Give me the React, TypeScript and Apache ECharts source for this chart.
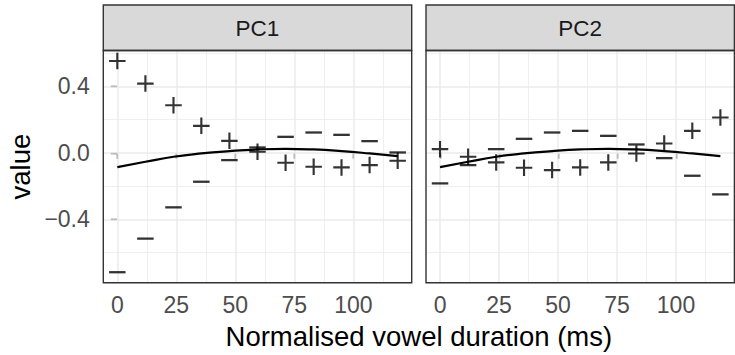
import React, { useEffect, useRef } from 'react';
import * as echarts from 'echarts';

// ---- data ----
const panels = ['PC1', 'PC2'];
const durations = [0, 11.9, 23.8, 35.6, 47.5, 59.4, 71.3, 83.2, 95.0, 106.9, 118.8];
const meanCurve = [-0.086, -0.054, -0.024, -0.004, 0.010, 0.020, 0.024, 0.020, 0.010, -0.004, -0.020];
const pc1Plus = [0.552, 0.416, 0.286, 0.162, 0.072, 0.006, -0.060, -0.084, -0.088, -0.074, -0.048];
const pc1Minus = [-0.718, -0.516, -0.328, -0.174, -0.044, 0.032, 0.096, 0.122, 0.108, 0.070, 0.002];
const pc2Plus = [0.022, -0.024, -0.058, -0.090, -0.104, -0.088, -0.058, -0.004, 0.056, 0.132, 0.212];
const pc2Minus = [-0.184, -0.074, 0.022, 0.084, 0.122, 0.132, 0.102, 0.050, -0.032, -0.138, -0.250];
const xTicks = [0, 25, 50, 75, 100];
const xMinor = [12.5, 37.5, 62.5, 87.5, 112.5];
const yTicks = [-0.4, 0, 0.4];
const yMinor = [-0.6, -0.2, 0.2, 0.6];
const xRange = [-5.94, 124.74];
const yRange = [-0.781, 0.615];

// ---- layout ----
const FONT = '"Liberation Sans", Arial, Helvetica, sans-serif';
const PANEL_LEFT = [103.3, 426];
const PANEL_W = 308.4;
const PANEL_TOP = 50.5;
const PANEL_H = 232.2;
const STRIP_TOP = 5;
const STRIP_H = 45.5;

const PLUS_PATH = 'path://M0,4.35H4.35V0H5.65V4.35H10V5.65H5.65V10H4.35V5.65H0Z';

export default function App() {
  const ref = useRef<HTMLDivElement>(null);

  useEffect(() => {
    if (!ref.current) return;
    const chart = echarts.init(ref.current, undefined, { renderer: 'svg' });

    const plusSets = [pc1Plus, pc2Plus];
    const minusSets = [pc1Minus, pc2Minus];

    const grids = panels.map((_, i) => ({
      left: PANEL_LEFT[i],
      top: PANEL_TOP,
      width: PANEL_W,
      height: PANEL_H,
      show: true,
      backgroundColor: '#FFFFFF',
      borderWidth: 0,
      containLabel: false,
    }));

    const xAxes = panels.map((_, i) => ({
      type: 'value',
      gridIndex: i,
      min: xRange[0],
      max: xRange[1],
      axisLine: { show: false },
      splitLine: { show: false },
      axisTick: {
        show: true,
        length: 6,
        customValues: xTicks,
        lineStyle: { color: '#333333', width: 1.4 },
      },
      axisLabel: {
        show: true,
        customValues: xTicks,
        margin: 11,
        color: '#4D4D4D',
        fontSize: 23,
        fontFamily: FONT,
      },
    }));

    const yAxes = panels.map((_, i) => ({
      type: 'value',
      gridIndex: i,
      min: yRange[0],
      max: yRange[1],
      axisLine: { show: false },
      splitLine: { show: false },
      axisTick: {
        show: i === 0,
        length: 6.5,
        customValues: yTicks,
        lineStyle: { color: '#333333', width: 1.4 },
      },
      axisLabel: {
        show: i === 0,
        customValues: yTicks,
        margin: 13.5,
        color: '#4D4D4D',
        fontSize: 23,
        fontFamily: FONT,
        formatter: (v: number) =>
          v < 0 ? '\u2212' + Math.abs(v).toFixed(1) : Math.abs(v).toFixed(1),
      },
    }));

    const gridLines = [
      ...xMinor.map((v) => ({ xAxis: v, lineStyle: { color: '#EBEBEB', width: 0.8, type: 'solid' } })),
      ...yMinor.map((v) => ({ yAxis: v, lineStyle: { color: '#EBEBEB', width: 0.8, type: 'solid' } })),
      ...xTicks.map((v) => ({ xAxis: v, lineStyle: { color: '#EBEBEB', width: 1.5, type: 'solid' } })),
      ...yTicks.map((v) => ({ yAxis: v, lineStyle: { color: '#EBEBEB', width: 1.5, type: 'solid' } })),
    ];

    const series: any[] = [];
    panels.forEach((_, i) => {
      series.push({
        type: 'line',
        xAxisIndex: i,
        yAxisIndex: i,
        data: durations.map((d, j) => [d, meanCurve[j]]),
        smooth: true,
        symbol: 'none',
        lineStyle: { color: '#000000', width: 2.2 },
        z: 3,
        silent: true,
        markLine: {
          silent: true,
          symbol: ['none', 'none'],
          label: { show: false },
          z: 1,
          data: gridLines,
        },
      });
      series.push({
        type: 'scatter',
        xAxisIndex: i,
        yAxisIndex: i,
        data: durations.map((d, j) => [d, plusSets[i][j]]),
        symbol: PLUS_PATH,
        symbolSize: 16.5,
        itemStyle: { color: '#000000' },
        z: 4,
        silent: true,
      });
      series.push({
        type: 'scatter',
        xAxisIndex: i,
        yAxisIndex: i,
        data: durations.map((d, j) => [d, minusSets[i][j]]),
        symbol: 'rect',
        symbolSize: [16.5, 2.3],
        itemStyle: { color: '#000000' },
        z: 4,
        silent: true,
      });
    });

    const graphics: any[] = [];
    panels.forEach((name, i) => {
      graphics.push({
        type: 'rect',
        shape: { x: PANEL_LEFT[i], y: STRIP_TOP, width: PANEL_W, height: STRIP_H },
        style: { fill: '#D9D9D9', stroke: '#333333', lineWidth: 1.4 },
        z: 10,
      });
      graphics.push({
        type: 'text',
        x: PANEL_LEFT[i] + PANEL_W / 2,
        y: STRIP_TOP + STRIP_H / 2 + 1,
        style: {
          text: name,
          fill: '#1A1A1A',
          font: `22.5px ${FONT}`,
          textAlign: 'center',
          textVerticalAlign: 'middle',
          align: 'center',
          verticalAlign: 'middle',
        },
        z: 11,
      });
      graphics.push({
        type: 'rect',
        shape: { x: PANEL_LEFT[i], y: PANEL_TOP, width: PANEL_W, height: PANEL_H },
        style: { fill: 'none', stroke: '#333333', lineWidth: 1.4 },
        z: 10,
      });
    });
    graphics.push({
      type: 'text',
      x: (PANEL_LEFT[0] + PANEL_LEFT[1] + PANEL_W) / 2,
      y: 336,
      style: {
        text: 'Normalised vowel duration (ms)',
        fill: '#000000',
        font: `27.5px ${FONT}`,
        textAlign: 'center',
        textVerticalAlign: 'middle',
        align: 'center',
        verticalAlign: 'middle',
      },
      z: 11,
    });
    graphics.push({
      type: 'text',
      x: 20,
      y: PANEL_TOP + PANEL_H / 2,
      rotation: Math.PI / 2,
      style: {
        text: 'value',
        fill: '#000000',
        font: `27.5px ${FONT}`,
        textAlign: 'center',
        textVerticalAlign: 'middle',
        align: 'center',
        verticalAlign: 'middle',
      },
      z: 11,
    });

    chart.setOption({
      animation: false,
      backgroundColor: '#FFFFFF',
      textStyle: { fontFamily: FONT },
      grid: grids,
      xAxis: xAxes,
      yAxis: yAxes,
      series,
      graphic: graphics,
    });

    return () => chart.dispose();
  }, []);

  return (
    <div
      ref={ref}
      style={{ position: 'fixed', left: 0, top: 0, width: 735, height: 355 }}
    />
  );
}
